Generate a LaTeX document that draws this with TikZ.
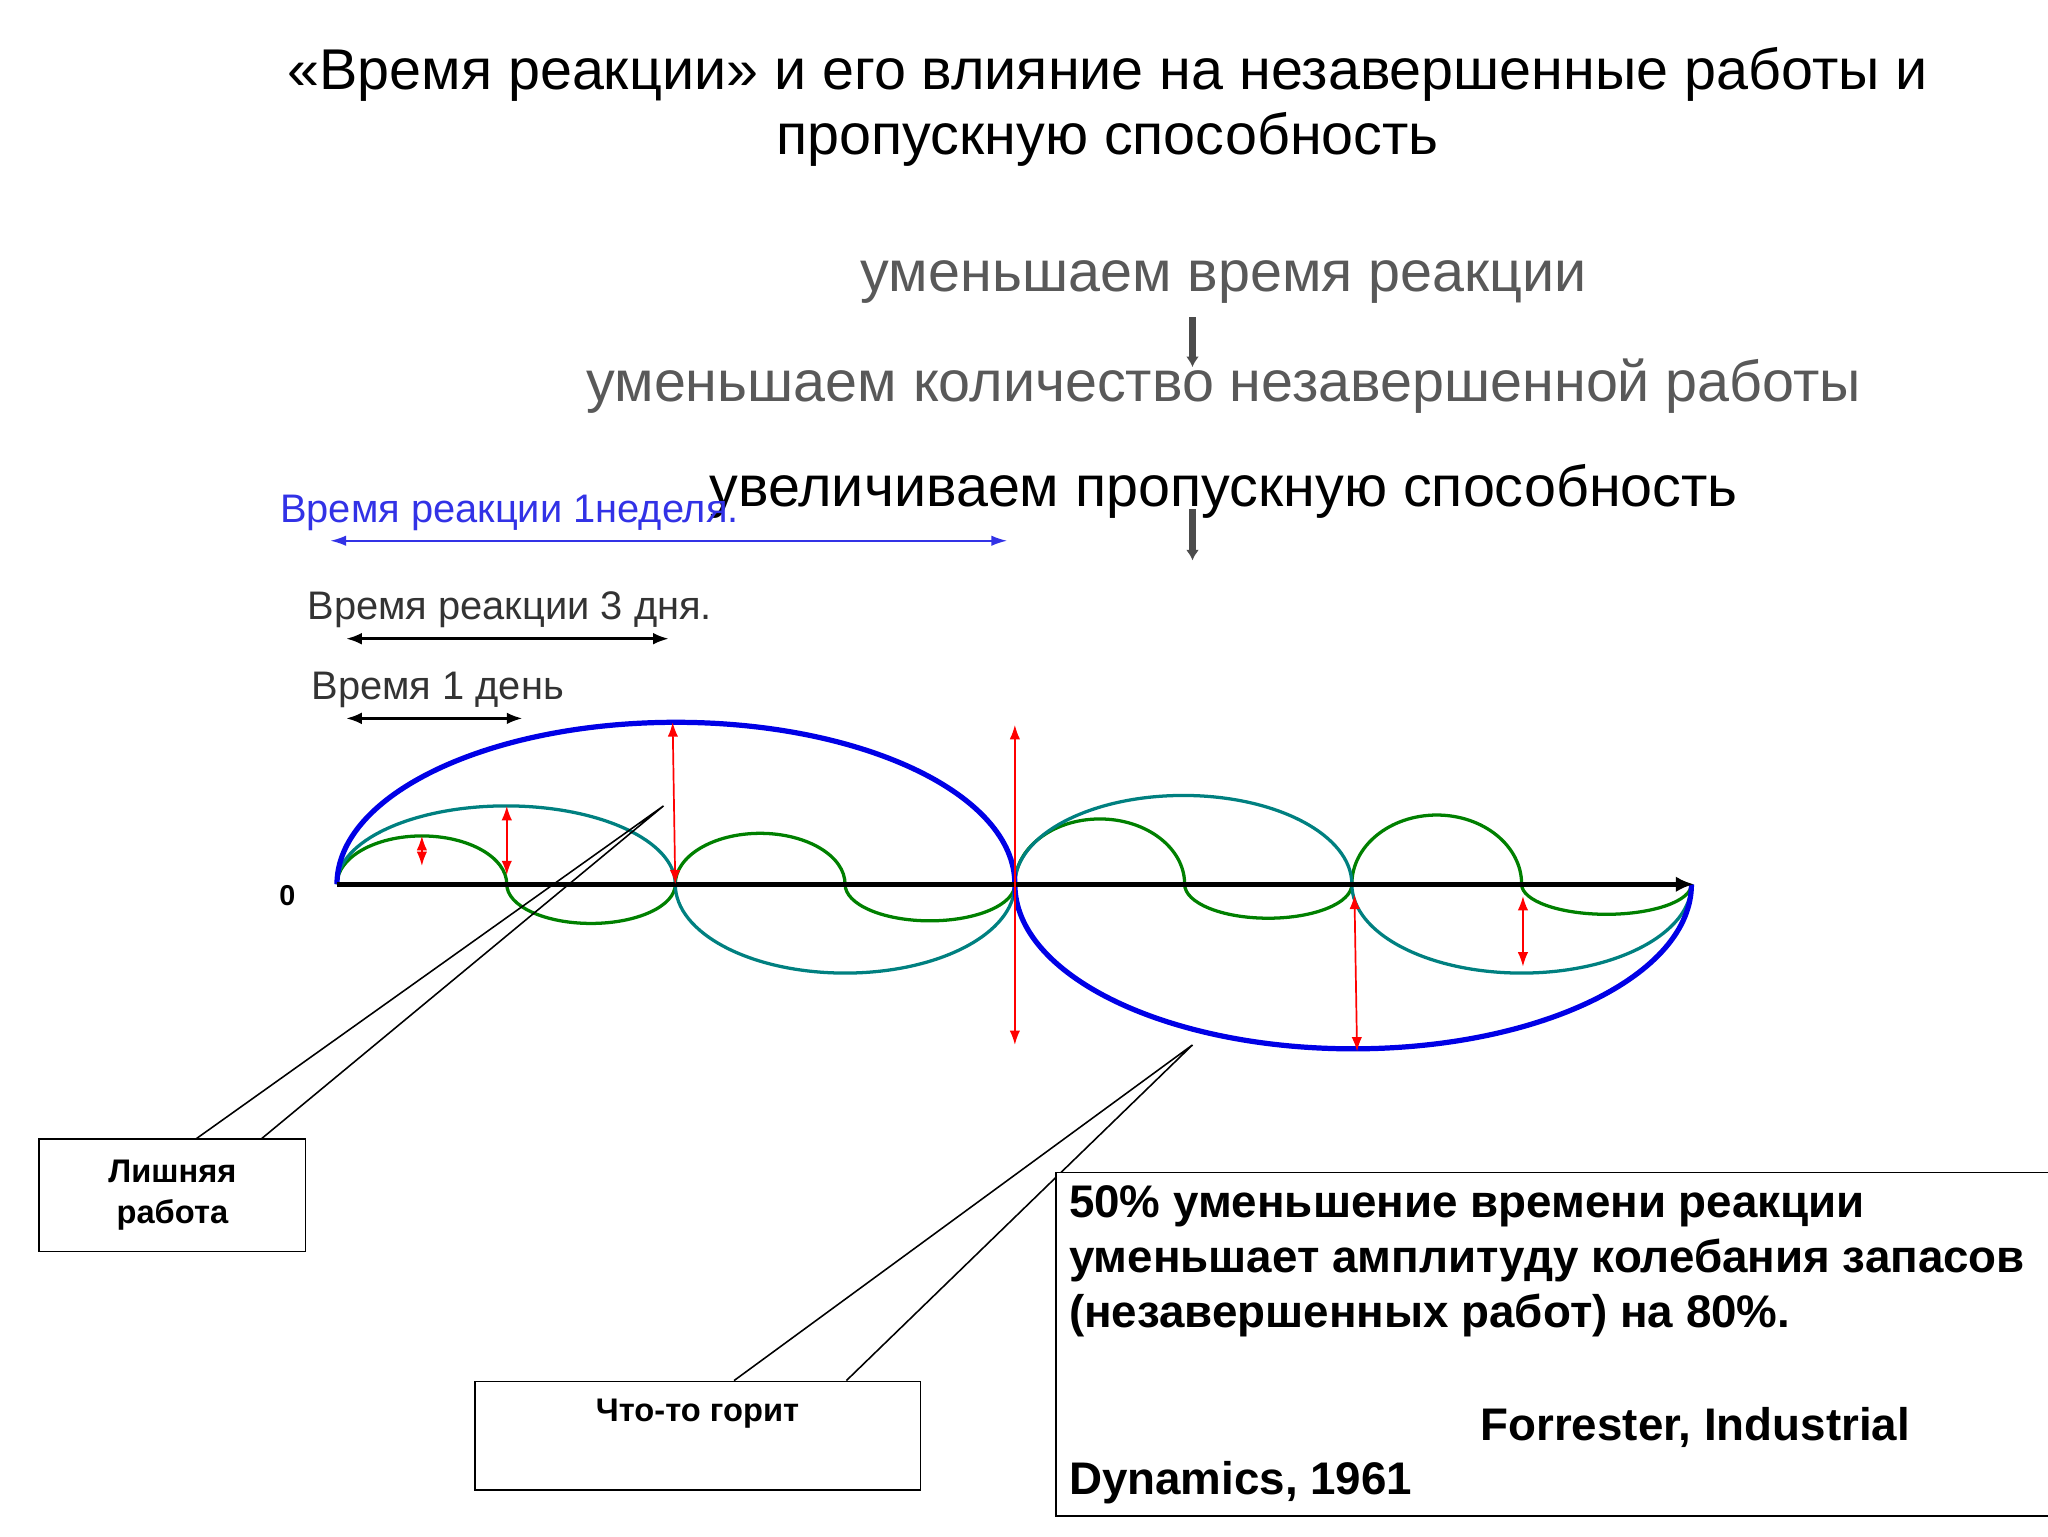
\documentclass[tikz,border=0pt]{standalone}
\usepackage{fontspec}
\setmainfont{Liberation Sans}
\usetikzlibrary{arrows.meta}
\definecolor{cblue}{RGB}{0,0,230}
\definecolor{lblue}{RGB}{50,50,230}
\definecolor{cteal}{RGB}{0,128,128}
\definecolor{cgreen}{RGB}{0,128,0}
\begin{document}
\begin{tikzpicture}[x=1pt,y=-1pt,
 dbl/.style={draw=red,line width=1.3pt,{Latex[length=11pt,width=8pt]}-{Latex[length=11pt,width=8pt]}},
 blu/.style={draw=cblue,line width=4pt},
 teal/.style={draw=cteal,line width=2.5pt},
 grn/.style={draw=cgreen,line width=2.5pt},
 callout/.style={draw,line width=1.2pt,fill=white}]
\useasboundingbox (0,0) rectangle (1568,1176);
\node[font=\fontsize{44}{50}\selectfont] (t1) at (848,57) {«Время реакции» и его влияние на незавершенные работы и};
\node[font=\fontsize{44}{50}\selectfont] (t2) at (848,107) {пропускную способность};
\node[text=black!65,font=\fontsize{44}{50}\selectfont] (g1) at (937,216) {уменьшаем время реакции};
\node[text=black!65,font=\fontsize{44}{50}\selectfont] (g2) at (937,296) {уменьшаем количество незавершенной работы};
\node[font=\fontsize{44}{50}\selectfont] (g3) at (937,376) {увеличиваем пропускную способность};
\coordinate (a1) at (913,243); \coordinate (a2) at (913,281);
\coordinate (a3) at (913,390); \coordinate (a4) at (913,429);
\draw[black!70,line width=5pt,-{Latex[length=8pt,width=10pt]}] (a1)--(a2);
\draw[black!70,line width=5pt,-{Latex[length=8pt,width=10pt]}] (a3)--(a4);
\node[anchor=west,text=lblue,font=\fontsize{30.5}{34}\selectfont] (l1) at (211,393) {Время реакции 1неделя.};
\coordinate (b1) at (253,414); \coordinate (b2) at (771,414);
\draw[lblue,line width=1.2pt,{Latex[length=12pt,width=8pt]}-{Latex[length=12pt,width=8pt]}] (b1)--(b2);
\node[anchor=west,text=black!80,font=\fontsize{30.5}{34}\selectfont] (l2) at (232,467) {Время реакции 3 дня.};
\coordinate (c1) at (265,489); \coordinate (c2) at (512,489);
\draw[line width=2pt,{Latex[length=12pt,width=9pt]}-{Latex[length=12pt,width=9pt]}] (c1)--(c2);
\node[anchor=west,text=black!80,font=\fontsize{30.5}{34}\selectfont] (l3) at (235,528) {Время 1 день};
\coordinate (d1) at (265,550); \coordinate (d2) at (400,550);
\draw[line width=2pt,{Latex[length=12pt,width=9pt]}-{Latex[length=12pt,width=9pt]}] (d1)--(d2);
\node[font=\rmfamily\bfseries\fontsize{22}{24}\selectfont] (zero) at (220,686) {0};
\draw[grn] (258,677) arc[start angle=180,end angle=360,x radius=65,y radius=37];
\draw[grn] (388,677) arc[start angle=180,end angle=0,x radius=64.5,y radius=30];
\draw[grn] (517,677) arc[start angle=180,end angle=360,x radius=65,y radius=39];
\draw[grn] (647,677) arc[start angle=180,end angle=0,x radius=65,y radius=28];
\draw[grn] (777,677) arc[start angle=180,end angle=360,x radius=65,y radius=50];
\draw[grn] (907,677) arc[start angle=180,end angle=0,x radius=64,y radius=26];
\draw[grn] (1035,677) arc[start angle=180,end angle=360,x radius=65,y radius=53];
\draw[grn] (1165,677) arc[start angle=180,end angle=0,x radius=65,y radius=23];
\draw[teal] (258,677) arc[start angle=180,end angle=360,x radius=129.5,y radius=60];
\draw[teal] (517,677) arc[start angle=180,end angle=0,x radius=130,y radius=68];
\draw[teal] (777,677) arc[start angle=180,end angle=360,x radius=129,y radius=68];
\draw[teal] (1035,677) arc[start angle=180,end angle=0,x radius=130,y radius=68];
\draw[blu] (258,677) arc[start angle=180,end angle=360,x radius=259.5,y radius=124];
\draw[blu] (777,677) arc[start angle=180,end angle=0,x radius=259,y radius=126];
\coordinate (x0) at (258,677); \coordinate (x1) at (1297,677);
\draw[line width=4pt,-{Latex[length=14pt,width=12pt]}] (x0)--(x1);
\draw[dbl] (323,640)--(323,663);
\draw[dbl] (388,617)--(388,670);
\draw[dbl] (515,553)--(517,677);
\draw[dbl] (777,555)--(777,800);
\draw[dbl] (1037,685)--(1039,805);
\draw[dbl] (1166,686)--(1166,740);
\coordinate (p1) at (508,617); \coordinate (p2) at (913,800);
\draw[line width=1.2pt] (150,872)--(p1)--(200,872);
\draw[line width=1.2pt] (562,1057)--(p2)--(648,1057);
\node[callout,minimum width=204,minimum height=86,align=center,font=\bfseries\fontsize{25}{31}\selectfont] (cb1) at (132,915) {Лишняя\\работа};
\node[callout,minimum width=341,minimum height=83,anchor=north west] (cb2) at (363,1057) {};
\node[font=\bfseries\fontsize{25}{28}\selectfont] (cb2t) at (534,1082) {Что-то горит};
\node[draw,line width=1.2pt,fill=white,minimum width=760,minimum height=263,anchor=north west] (big) at (808,897) {};
\node[anchor=north west,font=\bfseries\fontsize{35}{42}\selectfont,align=left] (bt) at (815,904) {50\% уменьшение времени реакции\\уменьшает амплитуду колебания запасов\\(незавершенных работ) на 80\%.};
\node[anchor=west,font=\bfseries\fontsize{35}{40}\selectfont] (bt2) at (1130,1093) {Forrester, Industrial};
\node[anchor=west,font=\bfseries\fontsize{35}{40}\selectfont] (bt3) at (815,1135) {Dynamics, 1961};
\end{tikzpicture}
\end{document}
